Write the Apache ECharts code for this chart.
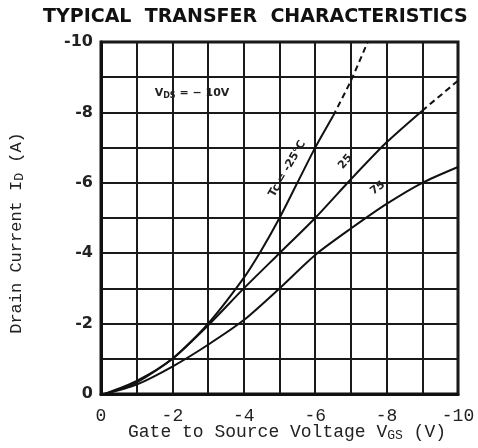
<!DOCTYPE html>
<html>
<head>
<meta charset="utf-8">
<script src="https://cdn.jsdelivr.net/npm/echarts@6/dist/echarts.min.js"></script>
<style>html,body{margin:0;padding:0;background:#fff;}#c{width:478px;height:448px;}</style>
</head>
<body>
<div id="c"></div>
<script>
// Tc = -25°C curve
const c1X = [-0.1, -1, -2, -3, -4, -4.5, -5, -5.5, -6, -6.5];
const c1Y = [0, -0.37, -1.0, -2.0, -3.3, -4.1, -5.0, -6.0, -7.0, -7.9];
const c1DashX = [-6.5, -7, -7.47];
const c1DashY = [-7.9, -8.9, -10];
// Tc = 25°C curve
const c2X = [-0.1, -1, -2, -3, -4, -5, -6, -7, -8, -9];
const c2Y = [0, -0.33, -1.0, -1.95, -3.0, -4.0, -5.0, -6.1, -7.15, -8.05];
const c2DashX = [-9, -10];
const c2DashY = [-8.05, -8.9];
// Tc = 75°C curve
const c3X = [-0.1, -1, -2, -3, -4, -5, -6, -7, -8, -9, -10];
const c3Y = [0, -0.27, -0.78, -1.4, -2.1, -3.0, -3.95, -4.7, -5.4, -6.0, -6.45];

const xTicks = [0, -2, -4, -6, -8, -10];
const yTicks = [0, -2, -4, -6, -8, -10];
const labels = ['Tc = -25°C', '25', '75'];

const zip = (xs, ys) => xs.map((x, i) => [x, ys[i]]);
const fmt = (ticks) => (v) => {
  const r = Math.round(v);
  if (Math.abs(v - r) > 1e-6) return '';
  return ticks.indexOf(r) >= 0 ? String(r === 0 ? 0 : r) : '';
};

const lineBase = {
  type: 'line', showSymbol: false, symbol: 'none', smooth: 0.25,
  lineStyle: { color: '#111', width: 2 }, silent: true, animation: false
};

const chart = echarts.init(document.getElementById('c'));
chart.setOption({
  animation: false,
  backgroundColor: '#fff',
  title: {
    text: 'TYPICAL  TRANSFER  CHARACTERISTICS',
    left: 38, top: 3,
    textStyle: { fontFamily: 'DejaVu Sans', fontWeight: 'bold', fontSize: 19, color: '#111' }
  },
  grid: { left: 101, right: 20, top: 42, bottom: 54, show: true, borderColor: '#111', borderWidth: 3 },
  xAxis: {
    type: 'value', min: -10, max: 0, interval: 1, inverse: true,
    axisLine: { show: true, lineStyle: { color: '#111', width: 3 } },
    axisTick: { show: false },
    splitLine: { show: true, lineStyle: { color: '#1a1a1a', width: 2 } },
    axisLabel: { formatter: fmt(xTicks), margin: 13, color: '#222', fontFamily: 'Liberation Mono', fontSize: 18 }
  },
  yAxis: {
    type: 'value', min: -10, max: 0, interval: 1, inverse: true,
    axisLine: { show: true, lineStyle: { color: '#111', width: 3 } },
    axisTick: { show: false },
    splitLine: { show: true, lineStyle: { color: '#1a1a1a', width: 2 } },
    axisLabel: { formatter: fmt(yTicks), margin: 8, color: '#222', fontFamily: 'DejaVu Sans', fontWeight: 'bold', fontSize: 16 }
  },
  series: [
    Object.assign({}, lineBase, { data: zip(c1X, c1Y) }),
    Object.assign({}, lineBase, { data: zip(c1DashX, c1DashY), lineStyle: { color: '#111', width: 2, type: [6, 4] } }),
    Object.assign({}, lineBase, { data: zip(c2X, c2Y) }),
    Object.assign({}, lineBase, { data: zip(c2DashX, c2DashY), lineStyle: { color: '#111', width: 2, type: [6, 4] } }),
    Object.assign({}, lineBase, { data: zip(c3X, c3Y) })
  ]
});

function px(x, y) { return chart.convertToPixel({ gridIndex: 0 }, [x, y]); }
const p1 = px(-5.22, -6.4), p2 = px(-6.85, -6.6), p3 = px(-7.75, -5.85), pv = px(-2.55, -8.55);
const deg = Math.PI / 180;
chart.setOption({
  graphic: [
    { type: 'text', x: p1[0], y: p1[1], rotation: 60 * deg,
      style: { text: labels[0], fontFamily: 'DejaVu Sans', fontSize: 11, fontWeight: 'bold', fill: '#222', align: 'center', verticalAlign: 'middle' } },
    { type: 'text', x: p2[0], y: p2[1], rotation: 50 * deg,
      style: { text: labels[1], fontFamily: 'DejaVu Sans', fontSize: 11, fontWeight: 'bold', fill: '#222', align: 'center', verticalAlign: 'middle' } },
    { type: 'text', x: p3[0], y: p3[1], rotation: 36 * deg,
      style: { text: labels[2], fontFamily: 'DejaVu Sans', fontSize: 11, fontWeight: 'bold', fill: '#222', align: 'center', verticalAlign: 'middle' } },
    { type: 'text', x: pv[0], y: pv[1],
      style: { text: '{b|V}{s|DS}{b| = − 10V}', align: 'center', verticalAlign: 'middle',
        rich: { b: { fontFamily: 'DejaVu Sans', fontWeight: 'bold', fontSize: 11, fill: '#222' },
                s: { fontFamily: 'DejaVu Sans', fontWeight: 'bold', fontSize: 8, fill: '#222', padding: [5, 0, 0, 0] } } } },
    { type: 'text', x: 287, y: 432,
      style: { text: '{m|Gate to Source Voltage V}{s|GS}{m| (V)}', align: 'center', verticalAlign: 'middle',
        rich: { m: { fontFamily: 'Liberation Mono', fontSize: 18, fill: '#222' },
                s: { fontFamily: 'Liberation Mono', fontSize: 13, fill: '#222', padding: [8, 0, 0, 0] } } } },
    { type: 'text', x: 16, y: 233, rotation: 90 * deg,
      style: { text: '{m|Drain Current I}{s|D}{m| (A)}', align: 'center', verticalAlign: 'middle',
        rich: { m: { fontFamily: 'Liberation Mono', fontSize: 17, fill: '#222' },
                s: { fontFamily: 'Liberation Mono', fontSize: 13, fill: '#222', padding: [8, 0, 0, 0] } } } }
  ]
});
</script>
</body>
</html>
